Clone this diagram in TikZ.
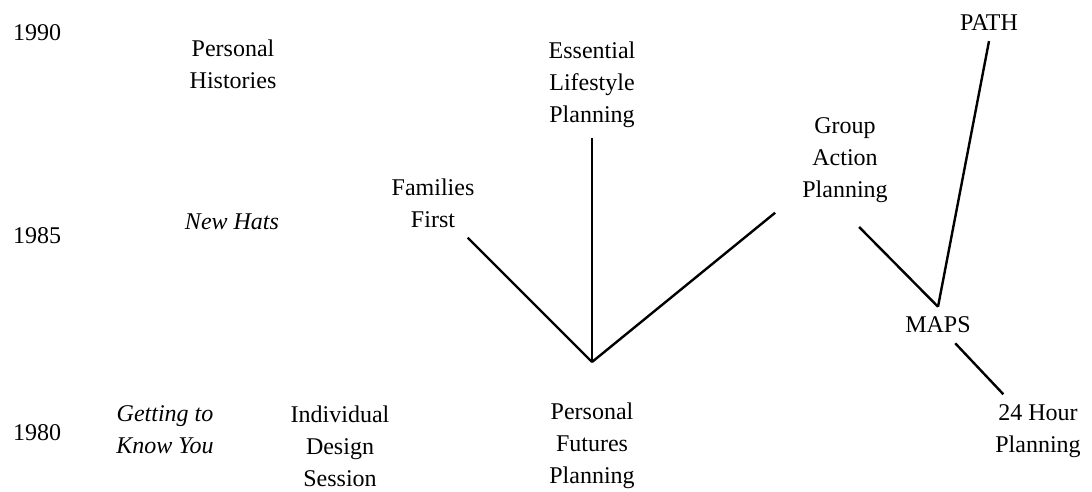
\documentclass[tikz,border=0pt]{standalone}
\usepackage{fontspec}
\setmainfont{Liberation Serif}

\tikzstyle{year}    = [text centered, font=\fontsize{24}{32}\selectfont, inner sep=10pt]
\tikzstyle{method}  = [align=center, font=\fontsize{24}{32}\selectfont, inner sep=10pt]
\tikzstyle{earlier} = [align=center, font=\fontsize{24}{32}\selectfont\itshape, inner sep=10pt]
\tikzstyle{link}    = [draw, line width=2.4pt]

\begin{document}
\begin{tikzpicture}[x=1pt, y=-1pt, node distance=84pt]
            \useasboundingbox (0,0) rectangle (1092,491);
            % years
            \node[year] (y1990) at (37,33)  {1990};
            \node[year] (y1985) at (37,236) {1985};
            \node[year] (y1980) at (37,433) {1980};

            \node[method]  (ph)   at (233,64)  {Personal\\Histories};
            \node[method]  (elp)  at (592,85)  {Essential\\Lifestyle\\Planning};
            \node[method]  (ff)   at (433,203) {Families\\First};
            \node[earlier] (nh)   at (232,222) {New Hats};
            \node[method]  (gap)  at (845,160) {Group\\Action\\Planning};
            \node[method]  (path) at (989,23)  {PATH};
            \node[method]  (maps) at (938,325) {MAPS};
            \node[method]  (hour) at (1038,431) {24 Hour\\Planning};
            \node[earlier] (gtky) at (165,430) {Getting to\\Know You};
            \node[method]  (ids)  at (340,446) {Individual\\Design\\Session};
            \coordinate (hub) at (592,362);
            \node[method, below of=hub] (pfp) {Personal\\Futures\\Planning};

            \path [link] (ff) -- (hub);
            \path [link] (elp) -- (hub);
            \path [link] ([xshift=-17pt]gap.south west) -- (hub);
            \path [link, shorten <=20pt] (gap.south) -- (maps.north);
            \path [link] (path.south) -- (maps.north);
            \path [link] (maps) -- (hour);
        \end{tikzpicture}
\end{document}
